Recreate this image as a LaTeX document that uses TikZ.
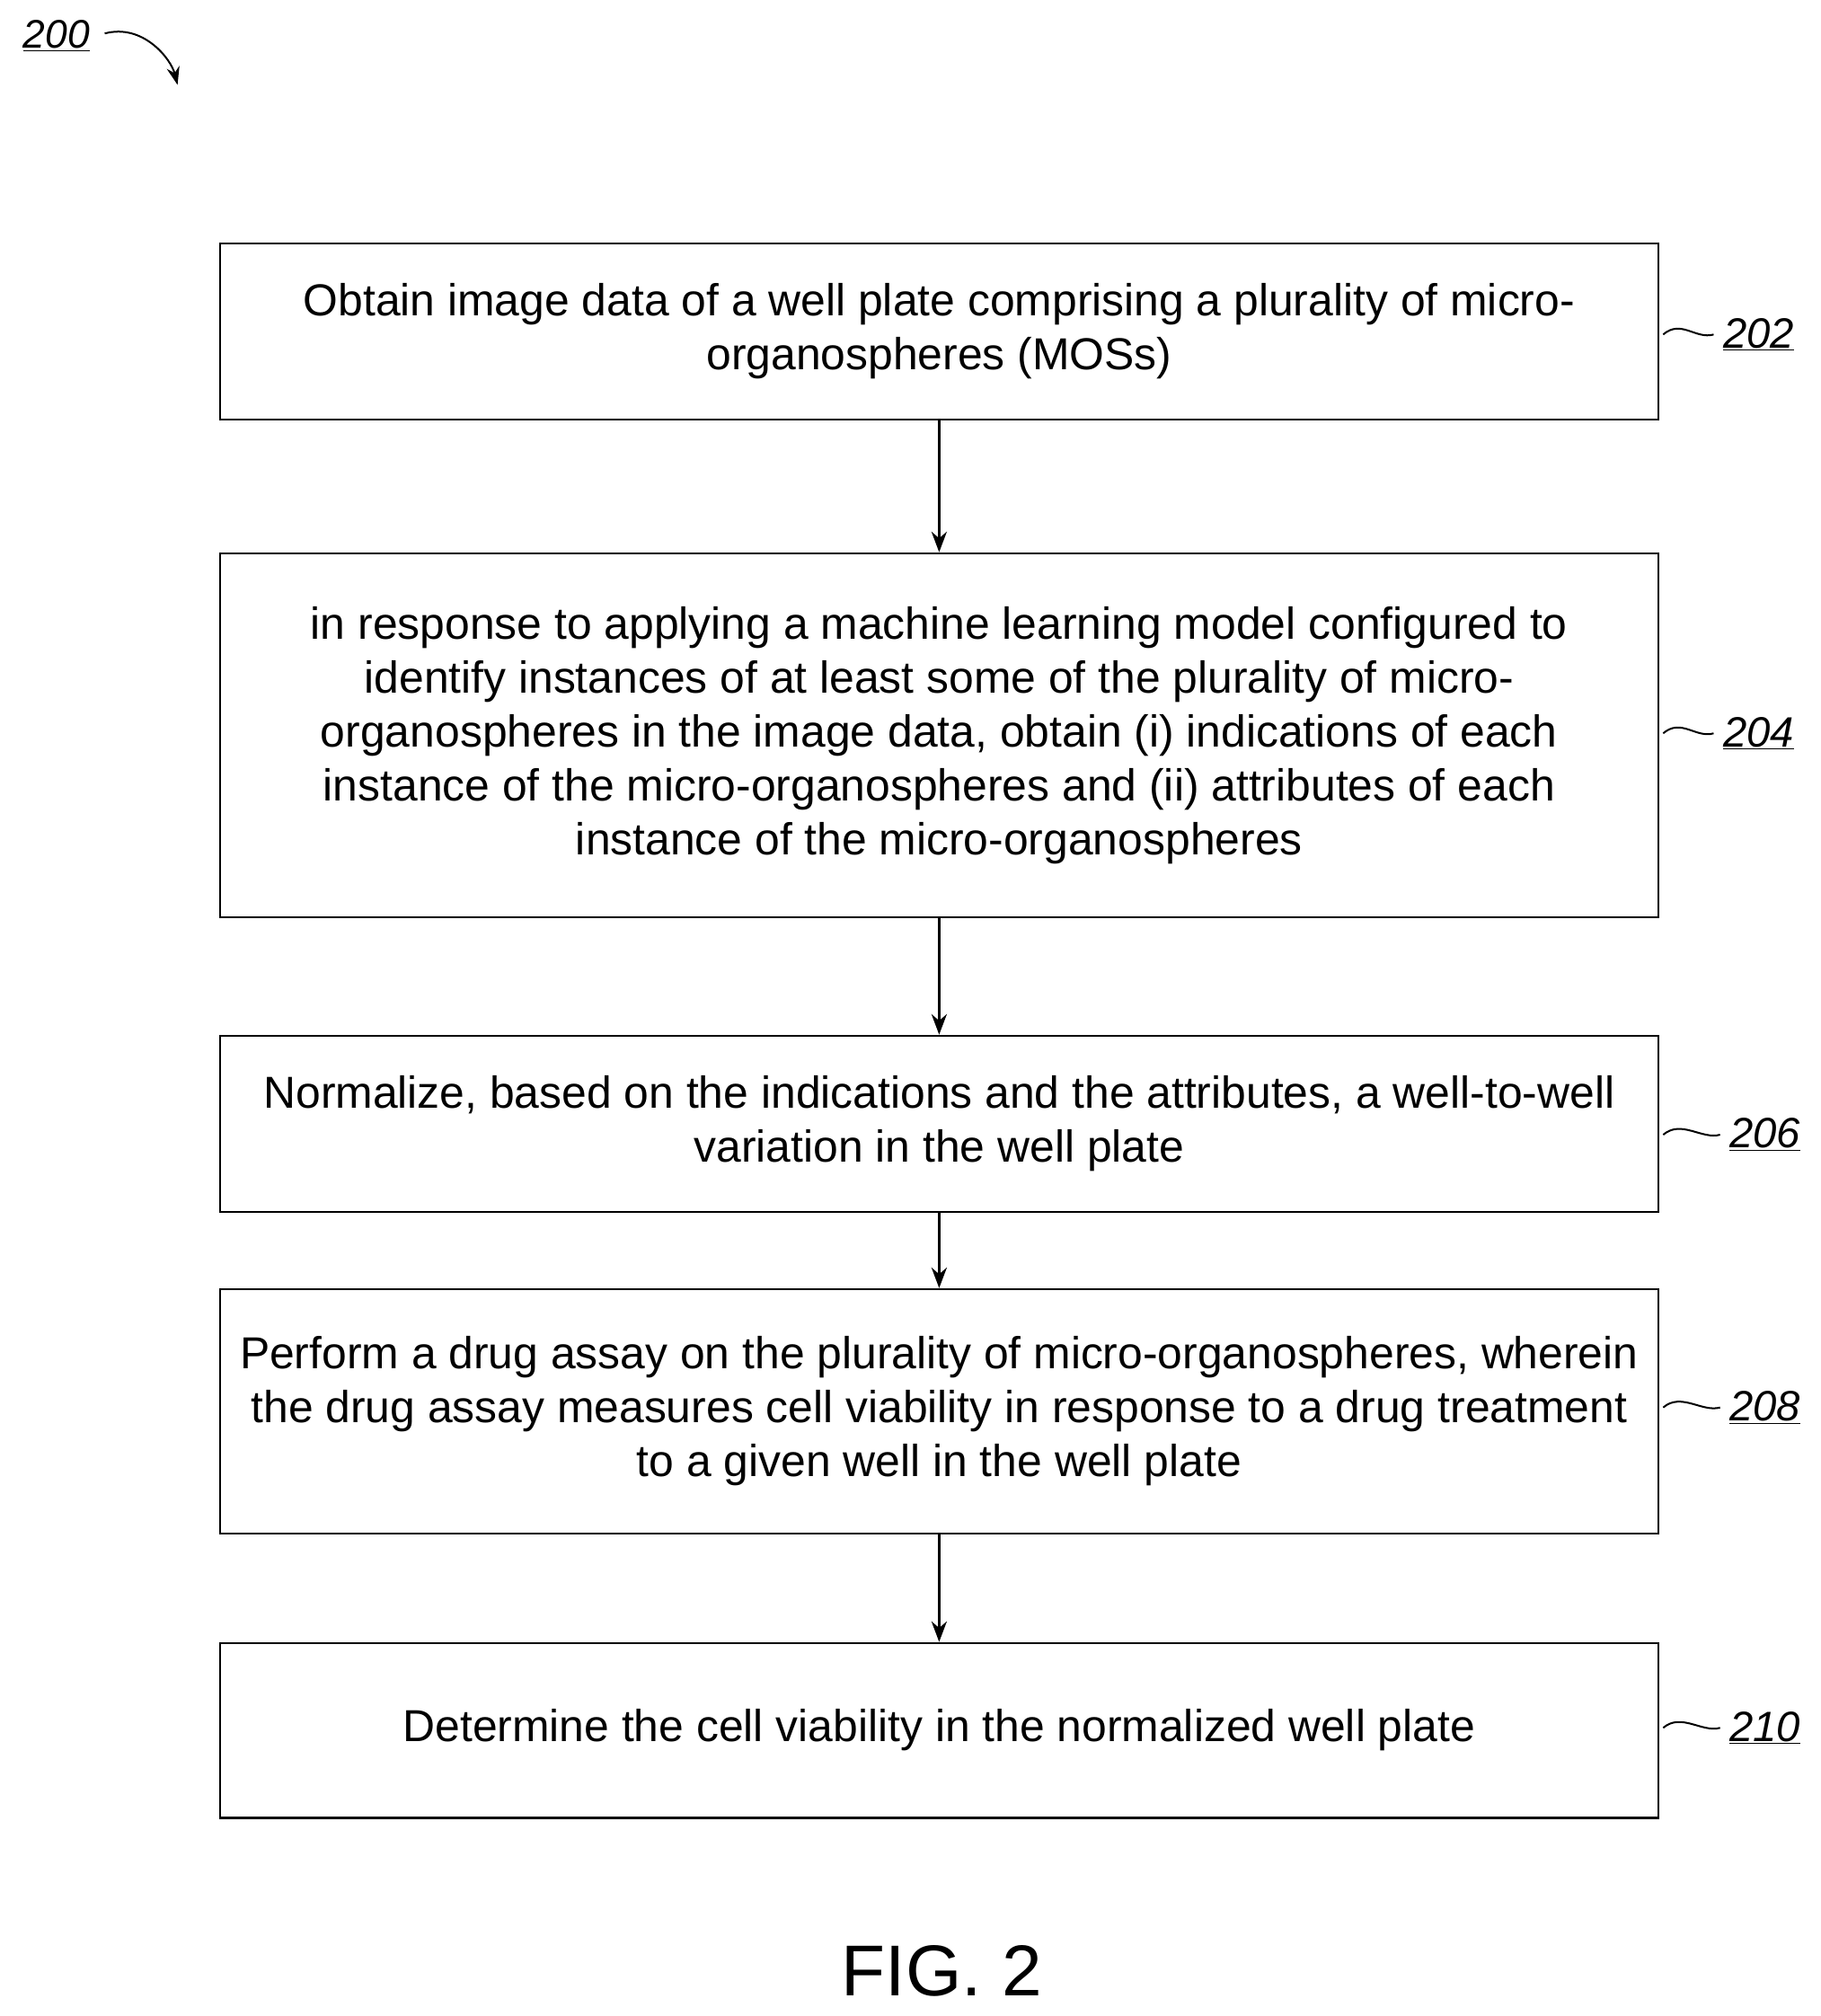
\documentclass[tikz,border=0pt]{standalone}
\usepackage{fontspec}
\setmainfont{Liberation Sans}
\usetikzlibrary{positioning,arrows.meta}
\tikzset{
  stepbox/.style={draw,line width=1.6pt,minimum width=1118pt,align=center,font=\fontsize{34.8}{42}\selectfont,inner sep=0pt},
  reflabel/.style={font=\fontsize{33}{36}\selectfont\itshape,anchor=west},
  flow/.style={-{Stealth[length=16pt,width=12pt]},line width=1.6pt},
  squig/.style={line width=1.4pt}
}
\newcommand{\reflab}[1]{\underline{#1}}
\begin{document}
\begin{tikzpicture}[x=1pt,y=-1pt]
\useasboundingbox (0,0) rectangle (1415,1567);

% steps
\node[stepbox,minimum height=137pt] (s202) at (730,257.5) {Obtain image data of a well plate comprising a plurality of micro-\\organospheres (MOSs)};
\node[stepbox,minimum height=283pt] (s204) at (730,571.5) {in response to applying a machine learning model configured to\\identify instances of at least some of the plurality of micro-\\organospheres in the image data, obtain (i) indications of each\\instance of the micro-organospheres and (ii) attributes of each\\instance of the micro-organospheres};
\node[stepbox,minimum height=137pt] (s206) at (730,873.5) {Normalize, based on the indications and the attributes, a well-to-well\\variation in the well plate};
\node[stepbox,minimum height=190pt] (s208) at (730,1097) {Perform a drug assay on the plurality of micro-organospheres, wherein\\the drug assay measures cell viability in response to a drug treatment\\to a given well in the well plate};
\node[stepbox,minimum height=136pt] (s210) at (730,1345) {Determine the cell viability in the normalized well plate};

% arrows
\draw[flow] (s202) -- (s204);
\draw[flow] (s204) -- (s206);
\draw[flow] (s206) -- (s208);
\draw[flow] (s208) -- (s210);

% reference labels
\node[reflabel] (l202) at (1336,260) {\reflab{202}};
\node[reflabel] (l204) at (1336,570) {\reflab{204}};
\node[reflabel] (l206) at (1341,882) {\reflab{206}};
\node[reflabel] (l208) at (1341,1094) {\reflab{208}};
\node[reflabel] (l210) at (1341,1343) {\reflab{210}};
\foreach \s in {202,204,206,208,210}
  \draw[squig] ([xshift=3pt]s\s.east |- l\s.west) .. controls +(14,-12) and +(-14,4) .. ([xshift=-4pt]l\s.west);

% figure number
\node[font=\fontsize{31}{36}\selectfont\itshape] (l200) at (44,28) {\reflab{200}};
\coordinate (c200) at (138,66);
\draw[-{Stealth[length=14pt,width=10pt]},line width=1.4pt] ([xshift=8pt,yshift=2pt]l200.east) .. controls +(30,-8) and +(-5,-20) .. (c200);

\node[font=\fontsize{56}{60}\selectfont] (fig) at (732,1532) {FIG. 2};
\end{tikzpicture}
\end{document}
